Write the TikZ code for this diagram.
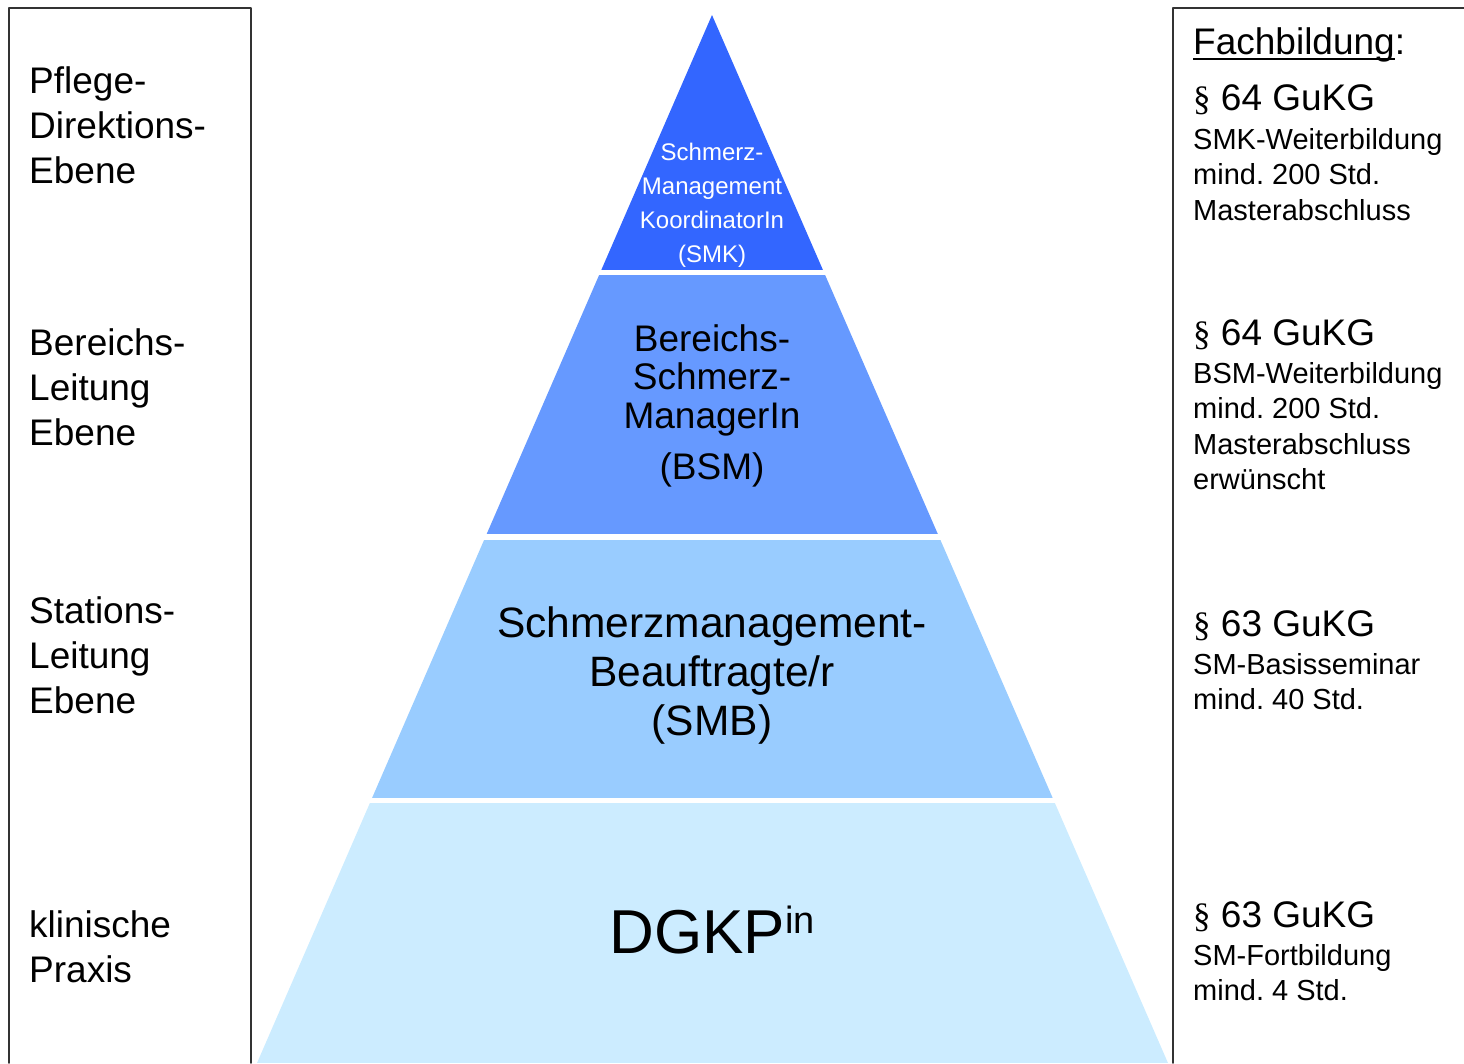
\documentclass[tikz,border=0pt]{standalone}
\usepackage{fontspec}
\setmainfont{Liberation Sans}
\newfontfamily\parafont{Liberation Serif}
\definecolor{smkblue}{HTML}{3366FF}
\definecolor{bsmblue}{HTML}{6699FF}
\definecolor{smbblue}{HTML}{99CCFF}
\definecolor{dgkpblue}{HTML}{CCECFF}
\frenchspacing
\newcommand\ulword[1]{\setbox0\hbox{#1}\rlap{\rule[-6.2pt]{\wd0}{1.8pt}}\box0}
\newcommand\para{{\parafont\fontsize{35}{35}\selectfont §}}
\begin{document}
\begin{tikzpicture}[x=1pt,y=-1pt, line join=round, line cap=round,
	frame/.style={draw=black!80, line width=1.5pt},
	lvl/.style={font=\fontsize{37}{45}\selectfont, align=left, anchor=north west, inner sep=0pt},
	gukg/.style={font=\fontsize{37}{45}\selectfont, anchor=base west, inner sep=0pt},
	info/.style={font=\fontsize{29}{35.5}\selectfont, align=left, anchor=north west, inner sep=0pt},
	ptext/.style={align=center, anchor=north, inner sep=0pt}]
	\useasboundingbox (0,0) rectangle (1464,1063);
	%Pyramide
	\def\xl{257} \def\xr{1168} \def\yb{1063}
	\begin{scope}
		\clip (712,15) -- (\xl,\yb) -- (\xr,\yb) -- cycle;
		\fill[smkblue] (0,0) rectangle (1464,270);
		\fill[bsmblue] (0,275) rectangle (1464,534);
		\fill[smbblue] (0,540) rectangle (1464,798);
		\fill[dgkpblue] (0,803) rectangle (1464,\yb);
	\end{scope}
	%Rahmen
	\draw[frame] (9,\yb) -- (9,8) -- (251,8) -- (251,\yb);
	\draw[frame] (1464,8) -- (1173,8) -- (1173,\yb);
	%Ebenen links
	\node[lvl] (pde) at (29,66) {Pflege-\\Direktions-\\Ebene};
	\node[lvl] (bl) at (29,328) {Bereichs-\\Leitung\\Ebene};
	\node[lvl] (sl) at (29,596) {Stations-\\Leitung\\Ebene};
	\node[lvl] (kp) at (29,910) {klinische\\Praxis};
	%Stufen
	\node[ptext, text=white, font=\fontsize{24}{34}\selectfont] (smk) at (712,142.5)
		{Schmerz-\\Management\\KoordinatorIn\\(SMK)};
	\node[ptext, font=\fontsize{37}{38.5}\selectfont] (bsm) at (712,324)
		{Bereichs-\\Schmerz-\\ManagerIn\\[13pt](BSM)};
	\node[ptext, font=\fontsize{42.5}{49}\selectfont] (smb) at (712,606)
		{Schmerzmanagement-\\Beauftragte/r\\(SMB)};
	\node[anchor=base, inner sep=0pt, font=\fontsize{62}{62}\selectfont] (dgkp) at (712,953)
		{DGKP\raisebox{20pt}{\fontsize{38}{38}\selectfont in}};
	%Fachbildung rechts
	\node[gukg] (fach) at (1193,54) {\ulword{Fachbildung}:};
	\node[gukg] (g1) at (1193,110) {\para\ 64 GuKG};
	\node[info] (i1) at (1193,128) {SMK-Weiterbildung\\mind. 200 Std.\\Masterabschluss};
	\node[gukg] (g2) at (1193,345) {\para\ 64 GuKG};
	\node[info] (i2) at (1193,362) {BSM-Weiterbildung\\mind. 200 Std.\\Masterabschluss\\erwünscht};
	\node[gukg] (g3) at (1193,636) {\para\ 63 GuKG};
	\node[info] (i3) at (1193,653) {SM-Basisseminar\\mind. 40 Std.};
	\node[gukg] (g4) at (1193,927) {\para\ 63 GuKG};
	\node[info] (i4) at (1193,944) {SM-Fortbildung\\mind. 4 Std.};
\end{tikzpicture}
\end{document}
